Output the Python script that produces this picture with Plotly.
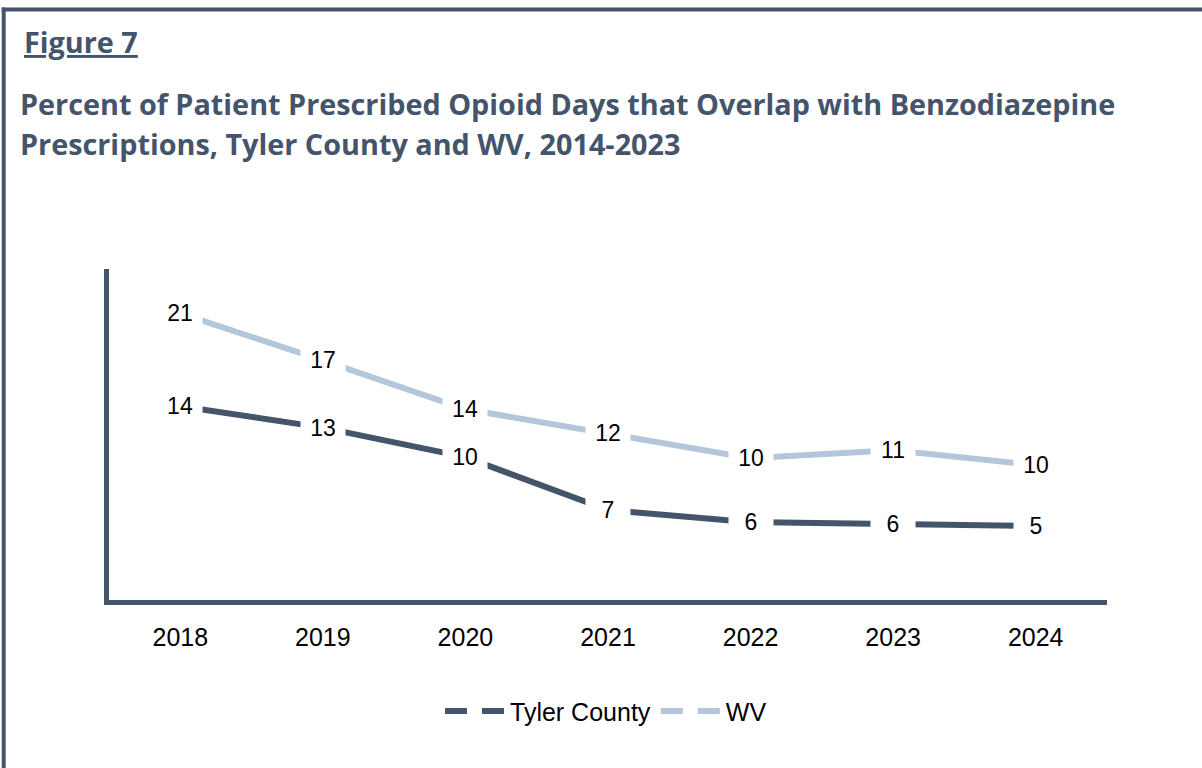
import plotly.graph_objects as go

# ---- data ----
years = ["2018", "2019", "2020", "2021", "2022", "2023", "2024"]
tyler_county = [14.11, 12.55, 10.40, 6.55, 5.67, 5.53, 5.38]
wv = [20.87, 17.45, 13.89, 12.15, 10.33, 10.91, 9.82]
series_names = ["Tyler County", "WV"]

figure_label = "Figure 7"
title_line1 = "Percent of Patient Prescribed Opioid Days that Overlap with Benzodiazepine"
title_line2 = "Prescriptions, Tyler County and WV, 2014-2023"

# ---- style ----
DARK = "#44546A"
LIGHT = "#B4C7DA"
W, H = 1202, 768
L, R, T, B = 109, 95, 269, 167.5
PW, PH = W - L - R, H - T - B

def px(xp):
    return (xp - L) / PW

def py(yp):
    return (H - B - yp) / PH

fig = go.Figure()
for name, vals, col in [(series_names[0], tyler_county, DARK), (series_names[1], wv, LIGHT)]:
    fig.add_trace(go.Scatter(x=years, y=vals, mode="lines", name=name,
                             line=dict(color=col, width=6), showlegend=False,
                             hoverinfo="skip"))
# legend samples (dashed)
for name, col in [(series_names[0], DARK), (series_names[1], LIGHT)]:
    fig.add_trace(go.Scatter(x=[None], y=[None], mode="lines", name=name,
                             line=dict(color=col, width=6, dash="22px,15px")))

annotations = []
for vals in (tyler_county, wv):
    for i, v in enumerate(vals):
        annotations.append(dict(x=i, y=v, xref="x", yref="y", text=f"{v:.0f}",
                                showarrow=False, bgcolor="white", width=30,
                                borderpad=7,
                                font=dict(family="Liberation Sans, Arial", size=23, color="black")))

TFONT = "Open Sans"
TSIZE = 28.8
annotations += [
    dict(x=px(22), y=py(41), xref="paper", yref="paper", xanchor="left", yanchor="middle",
         text=f"<b><u>{figure_label}</u></b>", showarrow=False,
         font=dict(family=TFONT, size=TSIZE, color=DARK)),
    dict(x=px(18), y=py(103), xref="paper", yref="paper", xanchor="left", yanchor="middle",
         text=f"<b>{title_line1}</b>", showarrow=False,
         font=dict(family=TFONT, size=TSIZE, color=DARK)),
    dict(x=px(18), y=py(143), xref="paper", yref="paper", xanchor="left", yanchor="middle",
         text=f"<b>{title_line2}</b>", showarrow=False,
         font=dict(family=TFONT, size=TSIZE, color=DARK)),
]

shapes = [
    dict(type="line", xref="paper", yref="paper", x0=px(3.7), x1=px(3.7), y0=py(7), y1=py(800),
         line=dict(color=DARK, width=4)),
    dict(type="line", xref="paper", yref="paper", x0=px(1.7), x1=px(1210), y0=py(9), y1=py(9),
         line=dict(color=DARK, width=4)),
]

fig.update_layout(
    width=W, height=H,
    margin=dict(l=L, r=R, t=T, b=B, pad=0),
    paper_bgcolor="white", plot_bgcolor="white",
    annotations=annotations, shapes=shapes,
    showlegend=True,
    legend=dict(orientation="h", x=px(606), xanchor="center", y=py(712), yanchor="middle",
                font=dict(family="Liberation Sans, Arial", size=25, color="black"),
                itemwidth=60, tracegroupgap=0, bgcolor="rgba(0,0,0,0)"),
    xaxis=dict(type="category", range=[-0.5, 6.5], showline=True, linecolor=DARK, linewidth=5,
               showgrid=False, zeroline=False, ticks="", ticklabelstandoff=11,
               tickfont=dict(family="Liberation Sans, Arial", size=25, color="black")),
    yaxis=dict(range=[0, 24.1], showline=True, linecolor=DARK, linewidth=5, showgrid=False,
               zeroline=False, showticklabels=False, ticks=""),
)

fig.write_html("out.html", config={"displayModeBar": False},
               post_script="document.body.style.margin='0';document.body.style.overflow='hidden';")
